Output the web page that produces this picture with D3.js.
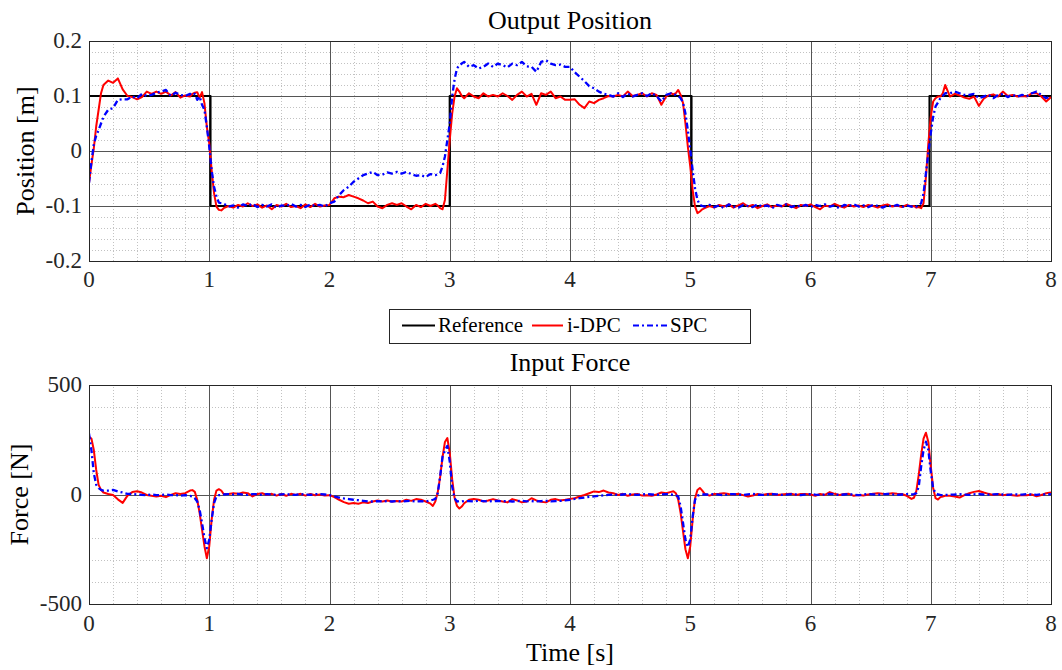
<!DOCTYPE html>
<meta charset="utf-8">
<style>

body {
  margin: 0;
  background: #fff;
}

svg, svg text {
  font-family: "Liberation Serif", "Times New Roman", serif;
}

.grid-major line {
  stroke: #555;
  shape-rendering: crispEdges;
}

.grid-minor line {
  stroke: #c2c2c2;
  stroke-dasharray: 1,2;
  shape-rendering: crispEdges;
}

.grid path {
  display: none;
}

.frame {
  fill: none;
  stroke: #262626;
  shape-rendering: crispEdges;
}

.tick-label {
  font-family: "Liberation Serif", "Times New Roman", serif;
  font-size: 23px;
  fill: #262626;
}

.title {
  font-size: 26px;
  fill: #000;
  text-anchor: middle;
}

.trace {
  fill: none;
  stroke-width: 2;
  stroke-linejoin: round;
}

.legend text {
  font-size: 21px;
  fill: #000;
}

</style>
<svg width="1062" height="670"></svg>
<script src="https://cdn.jsdelivr.net/npm/d3@7"></script>
<script>

// sample times [s] (finer around the steps)
var time = [
  0, 0.02, 0.04, 0.06, 0.08, 0.10, 0.12,
  0.16, 0.20, 0.24, 0.28, 0.32, 0.36, 0.40, 0.44, 0.48, 0.52,
  0.56, 0.60, 0.64, 0.68, 0.72, 0.76, 0.80, 0.84,
  0.86, 0.88, 0.90, 0.92, 0.94, 0.96, 0.98, 1.00, 1.02, 1.04, 1.06, 1.08, 1.10, 1.12,
  1.16, 1.20, 1.24, 1.28, 1.32, 1.36, 1.40, 1.44, 1.48, 1.52,
  1.56, 1.60, 1.64, 1.68, 1.72, 1.76, 1.80, 1.84, 1.88, 1.92,
  1.96, 2.00, 2.04, 2.08, 2.12, 2.16, 2.20, 2.24, 2.28, 2.32,
  2.36, 2.40, 2.44, 2.48, 2.52, 2.56, 2.60, 2.64, 2.68, 2.72,
  2.76, 2.80, 2.84,
  2.86, 2.88, 2.90, 2.92, 2.94, 2.96, 2.98, 3.00, 3.02, 3.04, 3.06, 3.08, 3.10, 3.12,
  3.16, 3.20, 3.24, 3.28, 3.32, 3.36, 3.40, 3.44, 3.48, 3.52,
  3.56, 3.60, 3.64, 3.68, 3.72, 3.76, 3.80, 3.84, 3.88, 3.92,
  3.96, 4.00, 4.04, 4.08, 4.12, 4.16, 4.20, 4.24, 4.28, 4.32,
  4.36, 4.40, 4.44, 4.48, 4.52, 4.56, 4.60, 4.64, 4.68, 4.72,
  4.76, 4.80, 4.84,
  4.86, 4.88, 4.90, 4.92, 4.94, 4.96, 4.98, 5.00, 5.02, 5.04, 5.06, 5.08, 5.10, 5.12,
  5.16, 5.20, 5.24, 5.28, 5.32, 5.36, 5.40, 5.44, 5.48, 5.52,
  5.56, 5.60, 5.64, 5.68, 5.72, 5.76, 5.80, 5.84, 5.88, 5.92,
  5.96, 6.00, 6.04, 6.08, 6.12, 6.16, 6.20, 6.24, 6.28, 6.32,
  6.36, 6.40, 6.44, 6.48, 6.52, 6.56, 6.60, 6.64, 6.68, 6.72,
  6.76, 6.80, 6.84,
  6.86, 6.88, 6.90, 6.92, 6.94, 6.96, 6.98, 7.00, 7.02, 7.04, 7.06, 7.08, 7.10, 7.12,
  7.16, 7.20, 7.24, 7.28, 7.32, 7.36, 7.40, 7.44, 7.48, 7.52,
  7.56, 7.60, 7.64, 7.68, 7.72, 7.76, 7.80, 7.84, 7.88, 7.92,
  7.96, 8.00
];

// position [m], i-DPC
var posIDPC = [
  -0.058, -0.025, 0.005, 0.045, 0.075, 0.105, 0.120,
  0.128, 0.124, 0.132, 0.112, 0.100, 0.098, 0.094, 0.098, 0.108, 0.104,
  0.108, 0.104, 0.108, 0.101, 0.107, 0.097, 0.101, 0.099,
  0.104, 0.106, 0.107, 0.097, 0.107, 0.087, 0.044, 0.014, -0.035, -0.077, -0.101, -0.107, -0.108, -0.104,
  -0.100, -0.103, -0.098, -0.101, -0.095, -0.100, -0.097, -0.103, -0.099, -0.106,
  -0.098, -0.101, -0.096, -0.102, -0.100, -0.104, -0.097, -0.102, -0.096, -0.101,
  -0.099, -0.098, -0.086, -0.083, -0.084, -0.080, -0.083, -0.086, -0.090, -0.095,
  -0.092, -0.101, -0.104, -0.098, -0.095, -0.098, -0.095, -0.101, -0.106, -0.098,
  -0.102, -0.096, -0.100,
  -0.098, -0.096, -0.099, -0.104, -0.106, -0.089, -0.035, 0.020, 0.068, 0.099, 0.114, 0.108, 0.100, 0.096,
  0.105, 0.099, 0.096, 0.105, 0.099, 0.102, 0.099, 0.105, 0.100, 0.093,
  0.102, 0.108, 0.099, 0.104, 0.084, 0.105, 0.102, 0.108, 0.096, 0.099,
  0.093, 0.093, 0.094, 0.084, 0.078, 0.090, 0.087, 0.093, 0.096, 0.100,
  0.099, 0.102, 0.099, 0.108, 0.100, 0.102, 0.105, 0.099, 0.105, 0.102,
  0.084, 0.099, 0.105,
  0.103, 0.105, 0.111, 0.102, 0.087, 0.050, 0.008, -0.028, -0.071, -0.101, -0.113, -0.110, -0.106, -0.104,
  -0.100, -0.103, -0.098, -0.101, -0.097, -0.103, -0.099, -0.095, -0.101, -0.098,
  -0.104, -0.100, -0.097, -0.102, -0.099, -0.101, -0.096, -0.100, -0.104, -0.098,
  -0.100, -0.097, -0.102, -0.106, -0.099, -0.101, -0.096, -0.100, -0.103, -0.098,
  -0.101, -0.099, -0.102, -0.098, -0.100, -0.103, -0.099, -0.097, -0.101, -0.099,
  -0.102, -0.098, -0.101,
  -0.100, -0.103, -0.102, -0.104, -0.095, -0.047, 0.014, 0.062, 0.090, 0.096, 0.099, 0.099, 0.105, 0.120,
  0.099, 0.104, 0.101, 0.097, 0.095, 0.099, 0.082, 0.095, 0.101, 0.103,
  0.099, 0.108, 0.100, 0.102, 0.099, 0.100, 0.099, 0.105, 0.105, 0.099,
  0.090, 0.098
];

// position [m], SPC
var posSPC = [
  -0.058, -0.020, 0.012, 0.028, 0.038, 0.050, 0.062,
  0.075, 0.078, 0.093, 0.094, 0.094, 0.099, 0.096, 0.104, 0.100, 0.102,
  0.106, 0.108, 0.111, 0.100, 0.106, 0.102, 0.100, 0.104,
  0.101, 0.104, 0.093, 0.099, 0.084, 0.075, 0.044, 0.008, -0.035, -0.065, -0.083, -0.094, -0.095, -0.096,
  -0.101, -0.099, -0.103, -0.097, -0.100, -0.096, -0.102, -0.098, -0.101, -0.097,
  -0.103, -0.099, -0.100, -0.096, -0.101, -0.098, -0.102, -0.097, -0.100, -0.098,
  -0.101, -0.095, -0.092, -0.080, -0.071, -0.065, -0.056, -0.050, -0.044, -0.041,
  -0.038, -0.044, -0.043, -0.039, -0.041, -0.038, -0.041, -0.038, -0.042, -0.045,
  -0.044, -0.047, -0.042,
  -0.043, -0.044, -0.042, -0.040, -0.028, -0.010, 0.020, 0.050, 0.099, 0.130, 0.150, 0.156, 0.159, 0.162,
  0.153, 0.156, 0.150, 0.153, 0.159, 0.153, 0.159, 0.156, 0.152, 0.159,
  0.156, 0.162, 0.154, 0.153, 0.144, 0.162, 0.165, 0.159, 0.156, 0.157,
  0.153, 0.153, 0.143, 0.135, 0.127, 0.118, 0.114, 0.108, 0.104, 0.102,
  0.099, 0.105, 0.098, 0.105, 0.099, 0.102, 0.105, 0.100, 0.105, 0.100,
  0.090, 0.102, 0.105,
  0.103, 0.102, 0.100, 0.096, 0.088, 0.068, 0.038, 0.002, -0.035, -0.068, -0.089, -0.098, -0.100, -0.101,
  -0.098, -0.102, -0.099, -0.104, -0.097, -0.101, -0.103, -0.098, -0.100, -0.102,
  -0.097, -0.101, -0.099, -0.104, -0.098, -0.100, -0.097, -0.102, -0.099, -0.101,
  -0.098, -0.102, -0.098, -0.100, -0.097, -0.101, -0.099, -0.104, -0.098, -0.100,
  -0.097, -0.101, -0.099, -0.102, -0.098, -0.100, -0.103, -0.099, -0.101, -0.098,
  -0.102, -0.099, -0.101,
  -0.100, -0.101, -0.099, -0.095, -0.077, -0.040, -0.004, 0.032, 0.062, 0.081, 0.088, 0.096, 0.100, 0.105,
  0.105, 0.108, 0.105, 0.102, 0.102, 0.104, 0.096, 0.099, 0.102, 0.096,
  0.102, 0.104, 0.098, 0.102, 0.099, 0.102, 0.100, 0.105, 0.108, 0.102,
  0.096, 0.100
];

// input force [N], i-DPC
var forceIDPC = [
  264, 256, 203, 112, 44, 21, 9,
  2, -2, -22, -38, -5, 11, 15, 9, -2, -6,
  -9, -6, -12, -2, 6, 2, 6, 18,
  20, 12, -24, -85, -160, -236, -291, -236, -115, -24, 18, 24, 18, 2,
  2, 6, 3, 9, 6, -9, 2, 6, -2, 3,
  -5, 2, -6, 3, -2, 3, -5, 2, -3, 0,
  -5, -3, -12, -24, -35, -42, -39, -42, -36, -39,
  -32, -27, -32, -27, -32, -30, -32, -24, -29, -21,
  -24, -32, -42,
  -52, -32, 10, 80, 170, 240, 258, 190, 70, -15, -52, -64, -55, -40,
  -24, -21, -24, -32, -27, -21, -27, -32, -36, -21,
  -27, -36, -32, -17, -27, -33, -36, -24, -21, -27,
  -24, -20, -17, -9, -2, 6, 14, 11, 18, 9,
  6, -2, 3, -6, 0, 2, -5, -3, -6, 0,
  9, 6, 12,
  15, 6, -24, -85, -168, -250, -291, -236, -115, -17, 21, 30, 18, 3,
  -5, 2, 3, 6, 2, 0, 3, -3, -9, -5,
  2, -2, 2, 3, -2, 0, 2, 3, -2, 2,
  2, 0, -6, 2, -2, 11, 3, -2, 2, 3,
  -6, -2, -5, 0, 3, 6, 3, 2, 6, 3,
  2, -6, -20,
  -15, 15, 90, 180, 255, 282, 240, 130, 30, -17, -23, -12, -9, -6,
  -6, -9, -14, -3, 6, 12, 16, 9, 3, -2,
  2, -3, 0, -3, -6, -2, -3, 0, -8, -2,
  6, 9
];

// input force [N], SPC
var forceSPC = [
  279, 203, 97, 44, 29, 21, 18,
  18, 21, 14, 9, 3, 2, 0, -2, -3, 0,
  -3, -2, 0, -3, -2, -5, -3, -6,
  -9, -17, -32, -70, -130, -198, -245, -206, -115, -39, -9, -3, -2, 0,
  2, 0, 3, -1, -2, 2, 1, -2, 2, 0,
  -2, 1, 2, -1, -2, 2, 0, -2, 1, 2,
  0, -3, -9, -14, -18, -21, -24, -26, -29, -32,
  -32, -30, -32, -30, -32, -30, -32, -30, -29, -32,
  -30, -32, -27,
  -24, -20, 6, 82, 173, 200, 222, 150, 36, -17, -32, -30, -32, -30,
  -30, -32, -29, -30, -32, -30, -29, -31, -30, -32,
  -30, -29, -31, -30, -32, -30, -29, -31, -30, -29,
  -27, -24, -20, -17, -14, -11, -9, -6, -4, -2,
  0, -2, 0, 2, 0, -2, 0, 2, 0, -2,
  0, 2, 0,
  -2, -3, -9, -55, -130, -206, -240, -206, -100, -24, -5, -2, 0, 0,
  0, 2, -1, -3, 1, 2, 0, -2, 1, 3,
  -1, -2, 0, 2, 1, -2, -1, 2, 0, -3,
  1, 2, -1, -2, 0, 3, 1, -2, 0, 2,
  -1, -3, 0, 2, 1, -1, 0, 3, 1, -2,
  0, 2, 1,
  2, 6, 36, 127, 203, 241, 203, 105, 29, 6, 0, -2, -3, -2,
  -1, 0, 2, -1, -2, 1, 2, 0, -1, 1,
  2, 0, -2, 1, 0, -1, 2, 0, -2, 1,
  0, 2
];

// square-wave reference [m]
var refTime = [0, 1.01, 1.01, 3, 3, 5.01, 5.01, 6.99, 6.99, 8];
var refPos = [0.1, 0.1, -0.1, -0.1, 0.1, 0.1, -0.1, -0.1, 0.1, 0.1];

var xTicks = [0, 1, 2, 3, 4, 5, 6, 7, 8];
var xTickLabels = ["0", "1", "2", "3", "4", "5", "6", "7", "8"];
var posTicks = [-0.2, -0.1, 0, 0.1, 0.2];
var posTickLabels = ["-0.2", "-0.1", "0", "0.1", "0.2"];
var forceTicks = [-500, 0, 500];
var forceTickLabels = ["-500", "0", "500"];

var legendNames = ["Reference", "i-DPC", "SPC"];

var svg = d3.select("svg");

var x = d3.scaleLinear()
    .domain([0, 8])
    .range([89, 1051]);

var colors = {ref: "#000000", idpc: "#ff0000", spc: "#0000ff"};
var spcDash = "6,3,2,3";

function pairs(ts, vs) {
  return ts.map(function(t, i) { return [t, vs[i]]; });
}

var panels = [
  {
    id: "pos", top: 41, bottom: 261, domain: [-0.2, 0.2], minor: 20,
    ticks: posTicks, labels: posTickLabels,
    title: "Output Position", titleY: 28.5,
    ylabel: "Position [m]", ylabelX: 34, xLabelY: 287,
    lines: [
      {data: pairs(refTime, refPos), color: colors.ref, width: 2.2},
      {data: pairs(time, posIDPC), color: colors.idpc},
      {data: pairs(time, posSPC), color: colors.spc, dash: spcDash, width: 2.3}
    ]
  },
  {
    id: "force", top: 385, bottom: 604, domain: [-500, 500], minor: 10,
    ticks: forceTicks, labels: forceTickLabels,
    title: "Input Force", titleY: 371,
    ylabel: "Force [N]", ylabelX: 28, xLabelY: 631,
    lines: [
      {data: pairs(time, forceIDPC), color: colors.idpc},
      {data: pairs(time, forceSPC), color: colors.spc, dash: spcDash, width: 2.3}
    ]
  }
];

panels.forEach(function(p) {
  var y = d3.scaleLinear()
      .domain(p.domain)
      .range([p.bottom, p.top]);
  var h = p.bottom - p.top,
      w = x.range()[1] - x.range()[0];

  var g = svg.append("g").attr("class", "panel-" + p.id);

  svg.append("clipPath")
      .attr("id", "clip-" + p.id)
    .append("rect")
      .attr("x", x.range()[0])
      .attr("y", p.top)
      .attr("width", w)
      .attr("height", h);

  // minor grid
  g.append("g")
      .attr("class", "grid grid-minor")
      .attr("transform", "translate(0," + p.bottom + ")")
      .call(d3.axisBottom(x).ticks(40).tickSize(-h).tickFormat(""));
  g.append("g")
      .attr("class", "grid grid-minor")
      .attr("transform", "translate(" + x.range()[0] + ",0)")
      .call(d3.axisLeft(y).ticks(p.minor).tickSize(-w).tickFormat(""));

  // major grid
  g.append("g")
      .attr("class", "grid grid-major")
      .attr("transform", "translate(0," + p.bottom + ")")
      .call(d3.axisBottom(x).tickValues(xTicks).tickSize(-h).tickFormat(""));
  g.append("g")
      .attr("class", "grid grid-major")
      .attr("transform", "translate(" + x.range()[0] + ",0)")
      .call(d3.axisLeft(y).tickValues(p.ticks).tickSize(-w).tickFormat(""));

  // traces
  var line = d3.line()
      .defined(function(d) { return d[1] != null && !isNaN(d[1]); })
      .x(function(d) { return x(d[0]); })
      .y(function(d) { return y(d[1]); });

  g.append("g")
      .attr("clip-path", "url(#clip-" + p.id + ")")
    .selectAll("path")
    .data(p.lines)
    .enter().append("path")
      .attr("class", "trace")
      .attr("d", function(d) { return line(d.data); })
      .style("stroke", function(d) { return d.color; })
      .style("stroke-width", function(d) { return d.width || 2; })
      .style("stroke-dasharray", function(d) { return d.dash || null; });

  g.append("rect")
      .attr("class", "frame")
      .attr("x", x.range()[0])
      .attr("y", p.top)
      .attr("width", w)
      .attr("height", h);

  // tick labels
  g.selectAll(".xlab")
    .data(xTicks)
    .enter().append("text")
      .attr("class", "tick-label")
      .attr("x", function(d) { return x(d); })
      .attr("y", p.xLabelY)
      .attr("text-anchor", "middle")
      .text(function(d, i) { return xTickLabels[i]; });

  g.selectAll(".ylab")
    .data(p.ticks)
    .enter().append("text")
      .attr("class", "tick-label")
      .attr("x", 82)
      .attr("y", function(d) { return y(d) + 7; })
      .attr("text-anchor", "end")
      .text(function(d, i) { return p.labels[i]; });

  g.append("text")
      .attr("class", "title")
      .attr("x", (x.range()[0] + x.range()[1]) / 2)
      .attr("y", p.titleY)
      .text(p.title);

  g.append("text")
      .attr("class", "title")
      .attr("transform", "translate(" + p.ylabelX + "," + (p.top + p.bottom) / 2 + ") rotate(-90)")
      .text(p.ylabel);
});

svg.append("text")
    .attr("class", "title")
    .attr("x", (x.range()[0] + x.range()[1]) / 2)
    .attr("y", 661)
    .text("Time [s]");

// legend
var legend = svg.append("g").attr("class", "legend");

legend.append("rect")
    .attr("x", 389.5)
    .attr("y", 309.5)
    .attr("width", 361)
    .attr("height", 34)
    .style("fill", "#fff")
    .style("stroke", "#262626");

var legendItems = [
  {name: legendNames[0], color: colors.ref, x0: 402, x1: 435, tx: 438},
  {name: legendNames[1], color: colors.idpc, x0: 532, x1: 563, tx: 567},
  {name: legendNames[2], color: colors.spc, x0: 633, x1: 667, tx: 670, dash: spcDash}
];

var item = legend.selectAll(".item")
  .data(legendItems)
  .enter().append("g")
    .attr("class", "item");

item.append("line")
    .attr("x1", function(d) { return d.x0; })
    .attr("x2", function(d) { return d.x1; })
    .attr("y1", 325.5)
    .attr("y2", 325.5)
    .style("stroke", function(d) { return d.color; })
    .style("stroke-width", 2)
    .style("stroke-dasharray", function(d) { return d.dash || null; });

item.append("text")
    .attr("x", function(d) { return d.tx; })
    .attr("y", 332)
    .text(function(d) { return d.name; });

</script>
